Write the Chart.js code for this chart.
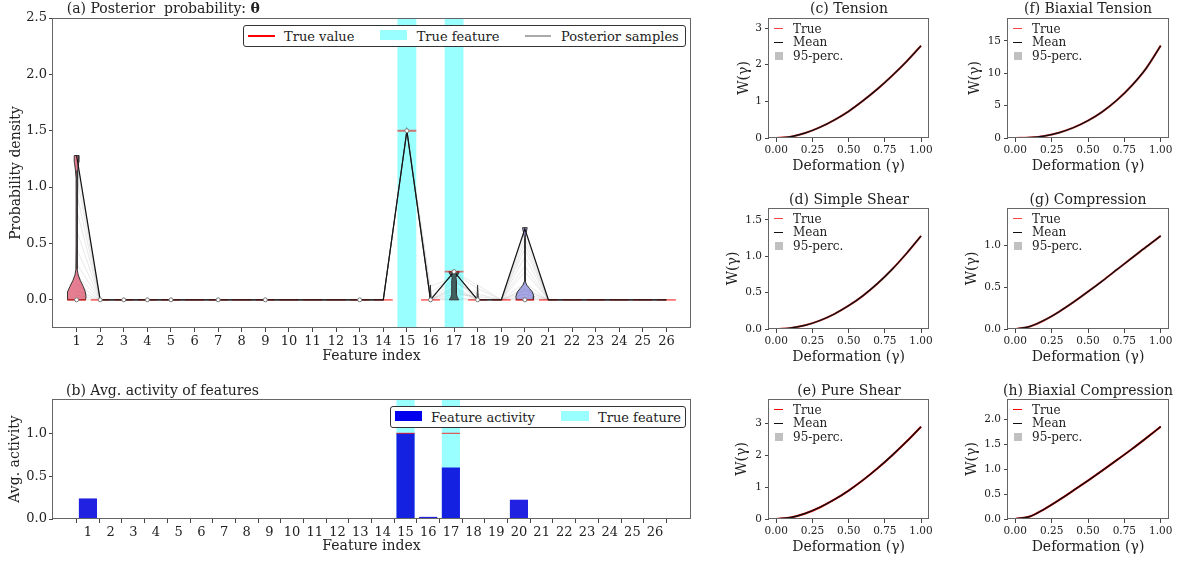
<!DOCTYPE html>
<html>
<head>
<meta charset="utf-8">
<title>Posterior features</title>
<script src="https://cdn.jsdelivr.net/npm/chart.js@4.4.1/dist/chart.umd.min.js"></script>
<style>
  html, body { margin: 0; padding: 0; background: #fff; }
  body { position: relative; width: 1179px; height: 562px; overflow: hidden; font-family: "DejaVu Serif", serif; color: #222; }
  canvas { position: absolute; }
  .txt { position: absolute; white-space: pre; line-height: 1; }
  .mid { transform: translate(-50%, -50%); }
  .lft { transform: translateY(-50%); }
  .legbox { position: absolute; border: 1px solid #333; border-radius: 3px; background: #fff; box-sizing: border-box; }
  .mk { position: absolute; }
</style>
</head>
<body>
<canvas id="chartA" width="700" height="370" style="left:0;top:0"></canvas>
<canvas id="chartB" width="700" height="192" style="left:0;top:370px"></canvas>
<script>
// ---- data -------------------------------------------------------------
const featureIdx = [1,2,3,4,5,6,7,8,9,10,11,12,13,14,15,16,17,18,19,20,21,22,23,24,25,26];
const trueTheta  = [0,0,0,0,0,0,0,0,0,0,0,0,0,0,1.5,0,0.25,0,0,0,0,0,0,0,0,0];
const modeSample = [1.28,0,0,0,0,0,0,0,0,0,0,0,0,0,1.5,0,0.25,0,0,0.63,0,0,0,0,0,0];

// posterior samples at the features where they are not zero
const sampleF1  = [1.28,1.26,1.2,1.1,0.95,0.8,0.62,0.45,0.32,0.22,0.14,0.08,0.04,0.0];
const sampleF15 = [1.5,1.5,1.5,1.49,1.5,1.51,1.5,1.5,1.5,1.5,1.49,1.5,1.5,1.5];
const sampleF16 = [0,0,0.12,0,0,0.06,0,0,0,0.03,0,0,0,0];
const sampleF17 = [0.25,0.24,0.2,0.25,0.16,0.22,0.12,0.25,0.08,0.18,0.05,0.1,0.02,0.0];
const sampleF18 = [0,0.1,0,0,0.05,0,0,0.13,0,0,0.03,0,0,0];
const sampleF20 = [0.62,0.05,0.55,0.1,0.45,0.6,0.3,0.02,0.5,0.15,0.38,0.0,0.25,0.08];
const posteriorSamples = {1: sampleF1, 15: sampleF15, 16: sampleF16, 17: sampleF17, 18: sampleF18, 20: sampleF20};

// violin outlines: value levels and half widths
const violin1Y  = [0, 0.03, 0.07, 0.12, 0.17, 0.22, 0.27, 0.5, 0.9, 1.08, 1.15, 1.22, 1.28];
const violin1W  = [0.38, 0.4, 0.37, 0.28, 0.16, 0.07, 0.03, 0.02, 0.02, 0.02, 0.05, 0.09, 0.1];
const violin16Y = [0, 0.13];
const violin16W = [0.03, 0.005];
const violin17Y = [0, 0.02, 0.05, 0.17, 0.2, 0.23, 0.25];
const violin17W = [0.2, 0.14, 0.1, 0.1, 0.08, 0.18, 0.22];
const violin18Y = [0, 0.13];
const violin18W = [0.03, 0.005];
const violin20Y = [0, 0.03, 0.07, 0.1, 0.13, 0.16, 0.3, 0.55, 0.6, 0.64];
const violin20W = [0.36, 0.38, 0.32, 0.2, 0.08, 0.03, 0.015, 0.015, 0.06, 0.1];

const medianIdx = [1,2,3,4,5,7,9,13,15,16,17,18,20];
const medianVal = [0,0,0,0,0,0,0,0,1.5,0,0.25,0,0];

const aYTicks = [0, 0.5, 1.0, 1.5, 2.0, 2.5];

// (b) average activity
const avgActivity = [0.24,0.01,0.003,0,0,0,0,0,0,0,0,0,0,0,1.0,0.025,0.6,0.01,0,0.225,0,0,0,0,0,0];
const trueActive  = [0,0,0,0,0,0,0,0,0,0,0,0,0,0,1,0,1,0,0,0,0,0,0,0,0,0];
const bYTicks = [0, 0.5, 1.0];

// (c)-(h) strain energy curves
const gamma = [0, 0.1, 0.2, 0.3, 0.4, 0.5, 0.6, 0.7, 0.8, 0.9, 1.0];
const wTension         = [0, 0.035, 0.135, 0.29, 0.49, 0.73, 1.02, 1.34, 1.70, 2.09, 2.52];
const wSimpleShear     = [0, 0.013, 0.051, 0.115, 0.205, 0.32, 0.46, 0.627, 0.82, 1.04, 1.28];
const wPureShear       = [0, 0.047, 0.173, 0.363, 0.607, 0.895, 1.226, 1.594, 1.998, 2.434, 2.9];
const wBiaxTension     = [0, 0.07, 0.32, 0.82, 1.6, 2.68, 4.08, 5.86, 8.06, 10.76, 14.25];
const wCompression     = [0, 0.03, 0.105, 0.205, 0.32, 0.445, 0.575, 0.71, 0.845, 0.98, 1.11];
const wBiaxCompression = [0, 0.05, 0.2, 0.38, 0.575, 0.775, 0.98, 1.19, 1.405, 1.63, 1.86];
const xTicksSmall = [0, 0.25, 0.5, 0.75, 1.0];

// ---- helpers ----------------------------------------------------------
Chart.defaults.font.family = '"DejaVu Serif", serif';
Chart.defaults.color = '#222';
Chart.defaults.animation = false;
Chart.defaults.elements.point.radius = 0;

const boxPlugin = {
    id: 'box',
    afterDraw(chart) {
        const {ctx, chartArea: a} = chart;
        ctx.save();
        ctx.strokeStyle = '#666';
        ctx.lineWidth = 1;
        const l = Math.round(a.left) - 0.5, t = Math.round(a.top) + 0.5;
        ctx.strokeRect(l, t, Math.round(a.right) - Math.round(a.left) + 1, Math.round(a.bottom) - Math.round(a.top) - 1);
        ctx.restore();
    }
};

function axis(o) {
    return {
        type: 'linear',
        min: o.min,
        max: o.max,
        afterBuildTicks: s => { s.ticks = o.ticks.map(v => ({value: v})); },
        afterFit: s => {
            if (o.width) s.width = o.width;
            if (o.height) s.height = o.height;
        },
        grid: {drawOnChartArea: false, drawTicks: true, tickLength: 4, tickColor: '#444', tickWidth: 1},
        border: {display: false},
        ticks: {autoSkip: false, maxRotation: 0, minRotation: 0, padding: o.tickPad, font: {size: o.tickSize}, color: '#222',
                callback: v => o.fmt(v)},
        title: {display: true, text: o.title, font: {size: o.titleSize}, padding: o.titlePad, color: '#222'}
    };
}

function polygon(pts, fill, stroke, order) {
    const data = pts.map(p => ({x: p[0], y: p[1]}));
    data.push(data[0]);
    return {data, fill: 'shape', backgroundColor: fill, borderColor: stroke, borderWidth: stroke === 'transparent' ? 0 : 1, order};
}

function segments(vals, half) {
    const pts = [];
    vals.forEach((v, i) => {
        pts.push({x: featureIdx[i] - half, y: v}, {x: featureIdx[i] + half, y: v}, {x: featureIdx[i], y: null});
    });
    return pts;
}

function addText(html, x, y, size, cls) {
    const d = document.createElement('div');
    d.className = 'txt ' + cls;
    d.style.left = x + 'px';
    d.style.top = y + 'px';
    d.style.fontSize = size + 'px';
    d.innerHTML = html;
    document.body.appendChild(d);
    return d;
}

function addMark(x, y, w, h, color) {
    const d = document.createElement('div');
    d.className = 'mk';
    Object.assign(d.style, {left: x + 'px', top: y + 'px', width: w + 'px', height: h + 'px', background: color});
    document.body.appendChild(d);
}

function addBox(x, y, w, h) {
    const d = document.createElement('div');
    d.className = 'legbox';
    Object.assign(d.style, {left: x + 'px', top: y + 'px', width: w + 'px', height: h + 'px'});
    document.body.appendChild(d);
}

// ---- (a) posterior probability ---------------------------------------
const aYMin = -0.25, aYMax = 2.5, bandHalf = 0.4;
const trueFeatures = featureIdx.filter((f, i) => trueTheta[i] !== 0);
const aDatasets = [];

trueFeatures.forEach(f => aDatasets.push(polygon(
    [[f - bandHalf, aYMin], [f + bandHalf, aYMin], [f + bandHalf, aYMax], [f - bandHalf, aYMax]],
    'rgba(0,255,255,0.4)', 'transparent', 10)));

for (let k = 0; k < sampleF1.length; k++) {
    aDatasets.push({
        data: featureIdx.map(f => ({x: f, y: posteriorSamples[f] ? posteriorSamples[f][k] : 0})),
        borderColor: 'rgba(110,110,110,0.16)', borderWidth: 1, fill: false, order: 9
    });
}

const violins = [
    {x: 1,  ys: violin1Y,  ws: violin1W,  color: 'rgba(210,40,70,0.6)'},
    {x: 16, ys: violin16Y, ws: violin16W, color: 'rgba(90,90,90,0.6)'},
    {x: 17, ys: violin17Y, ws: violin17W, color: 'rgba(50,70,70,0.85)'},
    {x: 18, ys: violin18Y, ws: violin18W, color: 'rgba(90,90,90,0.6)'},
    {x: 20, ys: violin20Y, ws: violin20W, color: 'rgba(60,60,200,0.45)'}
];
violins.forEach(v => {
    const left = v.ys.map((y, i) => [v.x - v.ws[i], y]);
    const right = v.ys.map((y, i) => [v.x + v.ws[i], y]).reverse();
    aDatasets.push(polygon(left.concat(right), v.color, '#333', 7));
});

aDatasets.push({data: segments(trueTheta, 0.4), borderColor: 'rgba(255,0,0,0.55)', borderWidth: 1.8, fill: false, order: 6});
aDatasets.push({data: featureIdx.map((f, i) => ({x: f, y: modeSample[i]})), borderColor: '#111', borderWidth: 1.2, fill: false, order: 5});
aDatasets.push({
    data: medianIdx.map((f, i) => ({x: f, y: medianVal[i]})), showLine: false,
    pointRadius: 2, pointBackgroundColor: '#fff', pointBorderColor: '#777', pointBorderWidth: 1, order: 1
});

new Chart(document.getElementById('chartA'), {
    type: 'line',
    data: {datasets: aDatasets},
    options: {
        responsive: false,
        layout: {padding: {left: 0, top: 18, right: 10, bottom: 0}},
        plugins: {legend: {display: false}, tooltip: {enabled: false}},
        scales: {
            x: axis({min: 0, max: 27, ticks: featureIdx, fmt: v => String(v), tickSize: 13, tickPad: 2,
                     title: 'Feature index', titleSize: 14, titlePad: {top: 0, bottom: 5}, height: 42}),
            y: axis({min: aYMin, max: aYMax, ticks: aYTicks, fmt: v => v.toFixed(1), tickSize: 13, tickPad: 2,
                     title: 'Probability density', titleSize: 14, titlePad: {top: 8.3, bottom: 0}, width: 53})
        }
    },
    plugins: [boxPlugin]
});

// ---- (b) average activity --------------------------------------------
const bYMax = 1.4;
new Chart(document.getElementById('chartB'), {
    type: 'bar',
    data: {
        datasets: [
            {type: 'line', data: segments(trueActive, 0.4), borderColor: 'rgba(255,0,0,0.8)', borderWidth: 1, fill: false, order: 1},
            {data: featureIdx.map((f, i) => ({x: f, y: avgActivity[i]})), backgroundColor: 'rgba(0,0,220,0.87)', order: 2},
            {data: featureIdx.map((f, i) => ({x: f, y: trueActive[i] ? bYMax : null})), backgroundColor: 'rgba(0,255,255,0.4)', order: 3}
        ]
    },
    options: {
        responsive: false,
        grouped: false,
        categoryPercentage: 1,
        barPercentage: 0.8,
        layout: {padding: {left: 0, top: 29, right: 10, bottom: 0}},
        plugins: {legend: {display: false}, tooltip: {enabled: false}},
        scales: {
            x: axis({min: 0, max: 27, ticks: featureIdx, fmt: v => String(v), tickSize: 13, tickPad: 2,
                     title: 'Feature index', titleSize: 14, titlePad: {top: 0, bottom: 7.6}, height: 43}),
            y: axis({min: 0, max: bYMax, ticks: bYTicks, fmt: v => v.toFixed(1), tickSize: 13, tickPad: 2,
                     title: 'Avg. activity', titleSize: 14, titlePad: {top: 7.3, bottom: 0}, width: 53})
        }
    },
    plugins: [boxPlugin]
});

// ---- (c)-(h) small panels --------------------------------------------
const rows = [
    {top: 0,   h: 185, padTop: 18, xH: 47, xTitlePad: 9.9, titleY: 8},
    {top: 185, h: 190, padTop: 23, xH: 46, xTitlePad: 9.3, titleY: 199},
    {top: 375, h: 187, padTop: 24, xH: 43, xTitlePad: 6.3, titleY: 389.7}
];
const cols = [
    {left: 700, w: 235, yW: 69, padR: 6},
    {left: 940, w: 239, yW: 68, padR: 11}
];
const panels = [
    {title: '(c) Tension',             vals: wTension,         yTicks: [0, 1, 2, 3],             dec: 0, row: 0, col: 0, yPad: 35.6, trueColor: '#ff4545'},
    {title: '(d) Simple Shear',        vals: wSimpleShear,     yTicks: [0, 0.5, 1.0, 1.5],       dec: 1, row: 1, col: 0, yPad: 24.9, trueColor: '#ff4545'},
    {title: '(e) Pure Shear',          vals: wPureShear,       yTicks: [0, 1, 2, 3],             dec: 0, row: 2, col: 0, yPad: 33.6, trueColor: '#ff0000'},
    {title: '(f) Biaxial Tension',     vals: wBiaxTension,     yTicks: [0, 5, 10, 15],           dec: 0, row: 0, col: 1, yPad: 26.6, trueColor: '#ff4545'},
    {title: '(g) Compression',         vals: wCompression,     yTicks: [0, 0.5, 1.0],            dec: 1, row: 1, col: 1, yPad: 23.6, trueColor: '#ff4545'},
    {title: '(h) Biaxial Compression', vals: wBiaxCompression, yTicks: [0, 0.5, 1.0, 1.5, 2.0],  dec: 1, row: 2, col: 1, yPad: 23.6, trueColor: '#ff0000'}
];

panels.forEach(p => {
    const r = rows[p.row], c = cols[p.col];
    const cv = document.createElement('canvas');
    cv.width = c.w;
    cv.height = r.h;
    cv.style.left = c.left + 'px';
    cv.style.top = r.top + 'px';
    document.body.appendChild(cv);

    const pts = gamma.map((g, i) => ({x: g, y: p.vals[i]}));
    new Chart(cv, {
        type: 'line',
        data: {
            datasets: [
                {data: pts, borderColor: '#111', borderWidth: 1.5, cubicInterpolationMode: 'monotone', fill: false, order: 1},
                {data: pts, borderColor: p.trueColor, borderWidth: 2.1, cubicInterpolationMode: 'monotone', fill: false, order: 2}
            ]
        },
        options: {
            responsive: false,
            layout: {padding: {left: 0, top: r.padTop, right: c.padR, bottom: 0}},
            plugins: {legend: {display: false}, tooltip: {enabled: false}},
            scales: {
                x: axis({min: -0.05, max: 1.05, ticks: xTicksSmall, fmt: v => v.toFixed(2), tickSize: 10.5, tickPad: 2,
                         title: 'Deformation (γ)', titleSize: 14, titlePad: {top: 0, bottom: r.xTitlePad}, height: r.xH}),
                y: axis({min: 0, max: Math.max(...p.vals) * 1.3, ticks: p.yTicks, fmt: v => v.toFixed(p.dec), tickSize: 10.5, tickPad: 3,
                         title: 'W(γ)', titleSize: 14, titlePad: {top: p.yPad, bottom: 0}, width: c.yW})
            }
        },
        plugins: [boxPlugin]
    });

    // title and legend
    const plotL = c.left + c.yW, plotR = c.left + c.w - c.padR, plotT = r.top + r.padTop;
    addText(p.title, (plotL + plotR) / 2, r.titleY, 14, 'mid');
    const lx = plotL + 5;
    addMark(lx, plotT + 10.5 - 0.75, 9, 1.5, p.trueColor);
    addText('True', plotL + 24, plotT + 10.5, 12, 'lft');
    addMark(lx, plotT + 24.4 - 0.75, 9, 1.5, '#111');
    addText('Mean', plotL + 24, plotT + 24.4, 12, 'lft');
    addMark(lx + 1, plotT + 38.4 - 4, 8, 8, '#c0c0c0');
    addText('95-perc.', plotL + 24, plotT + 38.4, 12, 'lft');
});

// ---- titles and legends of (a) and (b) -------------------------------
addText('(a) Posterior  probability: <b>θ</b>', 66.7, 8.3, 14, 'lft');
addBox(243, 25, 443, 22);
addMark(248, 34.5, 27, 2, '#ff0000');
addText('True value', 284, 36, 13, 'lft');
addMark(380, 30, 27, 10, 'rgba(0,255,255,0.4)');
addText('True feature', 416.7, 36, 13, 'lft');
addMark(525, 35, 26, 1.5, '#aaa');
addText('Posterior samples', 561, 36, 13, 'lft');

addText('(b) Avg. activity of features', 66, 390, 14, 'lft');
addBox(389.6, 405.7, 296.4, 22.6);
addMark(395.4, 410.7, 26.6, 10, '#0000ee');
addText('Feature activity', 431, 416.5, 13, 'lft');
addMark(561, 410.7, 28, 10, 'rgba(0,255,255,0.4)');
addText('True feature', 598, 416.5, 13, 'lft');
</script>
</body>
</html>
